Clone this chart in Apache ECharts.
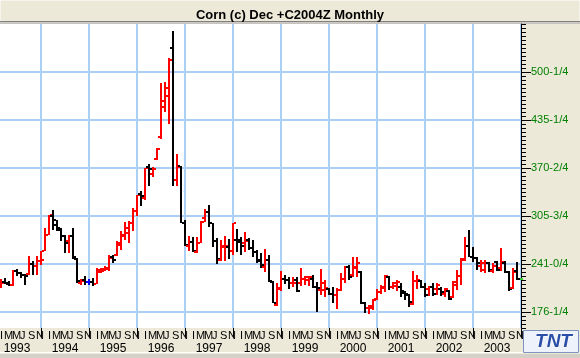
<!DOCTYPE html>
<html><head><meta charset="utf-8">
<script src="https://cdn.jsdelivr.net/npm/echarts@6/dist/echarts.min.js"></script>
<style>html,body{margin:0;padding:0;background:#ECE9D8;overflow:hidden}#c{width:580px;height:358px}</style>
</head><body><div id="c"></div>
<script>
// first bar: March 1993 (one padding month before and after)
const startYear = 1993, startMonth = 2;
const monthLetters = ['J','F','M','A','M','J','J','A','S','O','N','D'];
const open = [212,217,214.5,212.5,231,229,226,228,241,238,245.5,259,280.6,306.3,293.2,287.4,278.4,271.6,278.4,248.2,215.8,219.9,216.7,216.7,214,230.2,232,234.7,250,253.6,269.4,280.6,282.9,297,313,335.9,330,372,362,383,412,461,468,532,355,373,296,265.3,271.1,257.6,269.8,302.6,310.7,295.9,272,246.4,264.4,264.4,259,273.4,273.4,268.9,273.4,262.1,257.6,246.4,237.4,246.4,217.2,185.7,206.8,220.3,219.4,214.9,219.4,214.9,220.8,219.4,220.3,210.4,205.9,205.9,207.7,200.5,199.2,205.9,220.3,236.5,226.2,236,230.7,188.8,181.2,181.2,193.3,203.7,208.2,223.9,209.5,212,209.5,201.4,199.2,187,218,218.5,209.5,206.8,209.5,206.8,206.8,200.5,205,196.9,217.2,224.8,247.3,265.3,250.9,248.6,238.3,232.9,241.9,232,244.1,235.2,241.9,230.7,208.2,232];
const high = [221,222,218.5,232.5,234,230,227.5,251.4,244.6,251.4,258,289.6,307.6,314.4,300.9,289.6,280.6,280.6,289.6,249.1,221.2,224.4,221.2,222.1,235.6,235.6,237.9,253.6,253.6,271.6,285.1,298,298.6,316,334.5,339,371,376.4,372,397,485,487,519,556,389,374,300.4,278.8,277,277,299,314.8,320.6,296.8,275.6,273.4,278.8,274.3,296.8,287.8,277,284.6,275.6,273.4,259.9,255.4,261.2,253.1,218,214.9,232,226.2,223.9,223.9,223.9,235.2,224.8,224.8,226.2,217.2,233.8,219.4,208.2,210.4,208.2,229.3,238.3,239.7,250,251,232,190.2,185.7,193.3,206.8,212.7,226.2,224.8,217.2,219.4,214.9,205,200,232,226.2,219.4,214.9,211.3,214.8,214.8,209.5,208.2,205.9,218.1,232.9,248.6,277.9,286.9,263.5,250.9,246.4,246.4,244.1,241.9,245,262.1,245,232,235.2,244.1];
const low = [209,214,212,212,224.5,222,213,226.6,226.6,226.6,240,259,280.6,287.4,285.1,272.5,255.9,255.9,248.2,215.4,213.1,213.1,212.2,211.8,214,228.9,231.1,231.1,242.4,251.4,260.4,273.9,269.3,286,306,320,328,347,359,381,410,446,430,347,347,296.5,266,259,257.6,256.3,268.9,298.1,290.5,264.4,240.6,245.5,245,247.7,253.1,257.6,253.1,257.6,259.9,250.9,242.8,235.2,230.7,217.2,187.9,184.3,205,214,206.8,210.4,203.7,211.3,212.7,211.3,208.2,176.7,199.2,196,199.2,187.9,179.8,205,214.9,219.4,223.9,223,187,174.4,173.5,178.9,192.4,200.5,203.7,205.9,206.8,205,196.9,192.4,183.4,185.7,207,209,196.9,197.8,198.3,199.2,198.3,196,192.4,194.7,205.9,212.7,245.5,250.5,244.1,232.9,230.7,228.4,230.7,228.4,232,232,228.4,205,206.8,219.4];
const close = [215,216,213,231,229,226.6,225,241,238,245.5,246,280.6,306.7,300.9,289.6,278.4,269.4,278.4,250,218.5,218.5,216.7,216.7,214,233.4,234.7,235.6,249.1,246.9,267.1,278.4,289.6,296.4,312,333.6,333,370,369,369,396,453,478,517,354,372,297,267,271.1,259,269.8,298.1,310.7,295.9,272,247.7,265.3,265.7,259,295.9,270.2,265.3,272.5,262.1,257.6,245,239.7,246.4,218.5,188.8,209.1,220.3,219.4,214.9,215.8,205,220.3,223,223,210.4,208.2,214.9,208.2,200.5,199.2,205.9,220.3,236.5,224,236.5,242,187.9,181.2,184.3,192.4,203.7,209.5,224.8,209.5,214.8,217,205,200.5,190.2,218.5,219.4,209.8,199.2,209.5,200.5,212.7,203.7,206.8,193.3,212.7,224.8,246.4,265.3,251,248.6,241.9,242.8,241.9,232.9,238.3,232.9,244.1,230.7,206.8,230.7,220.3];
const tickValues = [176.25, 241.05, 305.85, 370.65, 435.45, 500.25];
const tickLabels = ['176-1/4','241-0/4','305-3/4','370-2/4','435-1/4','500-1/4'];

const nCat = open.length + 2;
const categories = [];
for (let i = 0; i < nCat; i++) {
  const m = startMonth - 1 + i;
  categories.push((startYear + Math.floor(m / 12)) + '-' + String(m % 12 + 1).padStart(2, '0'));
}
const monthOf = s => parseInt(s.slice(5), 10);
const bars = open.map((o, i) => [i + 1, o, high[i], low[i], close[i]]);
const lastIndex = bars.length - 1;

const chart = echarts.init(document.getElementById('c'), null, {renderer: 'canvas'});
const FONT = '"Liberation Sans", Arial, sans-serif';
chart.setOption({
  animation: false,
  backgroundColor: '#ECE9D8',
  title: {
    text: 'Corn (c) Dec +C2004Z Monthly', left: 'center', top: 4,
    textStyle: {fontFamily: FONT, fontSize: 13, fontWeight: 'bold', color: '#000'}
  },
  graphic: [
    {type: 'rect', shape: {x: 0, y: 0, width: 580, height: 22}, style: {fill: '#ECE9D8', stroke: '#ffffff', lineWidth: 1}, z: -1},
    {type: 'line', shape: {x1: 0, y1: 21.5, x2: 580, y2: 21.5}, style: {stroke: '#808080', lineWidth: 1}},
    {type: 'line', shape: {x1: 0, y1: 23, x2: 580, y2: 23}, style: {stroke: '#a0a0a0', lineWidth: 1}},
    {type: 'line', shape: {x1: 0, y1: 352.5, x2: 580, y2: 352.5}, style: {stroke: '#ffffff', lineWidth: 1}},
    {type: 'rect', shape: {x: 0, y: 354, width: 580, height: 4}, style: {fill: '#d4d0c8'}},
    {type: 'group', left: 523, top: 330, children: [
      {type: 'rect', shape: {x: 0, y: 0, width: 55, height: 22}, style: {fill: '#eef2fa', stroke: '#7f93c0', lineWidth: 1}},
      {type: 'text', style: {x: 30, y: 11, text: 'TNT', align: 'center', verticalAlign: 'middle', font: 'italic bold 19px "Liberation Sans", Arial', fill: '#2b4fa8', stroke: '#ffffff', lineWidth: 1}}
    ]}
  ],
  grid: {left: -3, top: 24, width: 524, height: 304, show: true, backgroundColor: '#ffffff', borderWidth: 0,
         containLabel: false, outerBoundsMode: 'none'},
  xAxis: [
    {
      type: 'category', data: categories, boundaryGap: false, position: 'bottom',
      axisLine: {show: true, lineStyle: {color: 'rgba(0,0,0,0)'}},
      axisTick: {show: true, interval: (idx, v) => monthOf(v) === 1, length: 9, lineStyle: {color: '#000', width: 1}},
      axisLabel: {interval: 0, margin: 2, fontFamily: FONT, fontSize: 11, color: '#000', align: 'left', padding: [0, 0, 0, 3],
        formatter: (v) => { const m = monthOf(v); return (m % 2 === 1 && m !== 1) ? monthLetters[m - 1] : (m === 2 ? 'I' : ''); }},
      splitLine: {show: true, interval: (idx, v) => monthOf(v) === 1, lineStyle: {color: '#aad0f8', width: 2}}
    },
    {
      type: 'category', data: categories, boundaryGap: false, position: 'bottom', offset: 13,
      axisLine: {show: false}, axisTick: {show: false}, splitLine: {show: false},
      axisLabel: {interval: 0, margin: 2, fontFamily: FONT, fontSize: 12, color: '#000',
        formatter: (v) => monthOf(v) === 7 ? v.slice(0, 4) : ''}
    }
  ],
  yAxis: [
    {
      type: 'value', position: 'right', min: 154.65, max: 565.05, interval: 5.4,
      axisLine: {show: true, lineStyle: {color: '#000', width: 1}},
      axisTick: {show: true, length: 5, lineStyle: {color: '#000'}},
      axisLabel: {show: false}, splitLine: {show: false}
    },
    {
      type: 'value', position: 'right', min: 154.65, max: 565.05,
      axisLine: {show: false},
      axisTick: {show: true, length: 10, customValues: tickValues, lineStyle: {color: '#000'}},
      axisLabel: {show: true, customValues: tickValues, margin: 10, fontFamily: FONT, fontSize: 11, color: '#008000',
        formatter: (v) => { const i = tickValues.findIndex(t => Math.abs(t - v) < 0.01); return i >= 0 ? tickLabels[i] : ''; }},
      splitLine: {show: true, lineStyle: {color: '#aad0f8', width: 2}}
    }
  ],
  series: [{
    type: 'custom', xAxisIndex: 0, yAxisIndex: 0, data: bars,
    encode: {x: 0, y: [1, 2, 3, 4]},
    renderItem: (params, api) => {
      const k = api.value(0);
      const o = api.coord([k, api.value(1)]);
      const h = api.coord([k, api.value(2)]);
      const l = api.coord([k, api.value(3)]);
      const c = api.coord([k, api.value(4)]);
      const x = Math.round(h[0]);
      const dv = api.value(4) - api.value(1);
      const color = dv > 0 ? '#ff0000' : (dv < 0 ? '#000000' : '#0000ff');
      const yh = Math.round(h[1]), yl = Math.round(l[1]);
      const children = [
        {type: 'rect', shape: {x: x - 1, y: yh, width: 2, height: Math.max(1, yl - yh)}, style: {fill: color}},
        {type: 'rect', shape: {x: x - 3, y: Math.round(o[1]) - 1, width: 2, height: 2}, style: {fill: color}},
        {type: 'rect', shape: {x: x + 1, y: Math.round(c[1]) - 1, width: 2, height: 2}, style: {fill: color}}
      ];
      if (params.dataIndex === lastIndex) {
        const m = api.coord([nCat - 1, api.value(4)]);
        children.push({type: 'rect', shape: {x: Math.round(m[0]) - 1, y: Math.round(m[1]) - 1, width: 3, height: 2}, style: {fill: '#33cc33'}, z2: 10});
      }
      return {type: 'group', children};
    }
  }]
});
</script></body></html>
